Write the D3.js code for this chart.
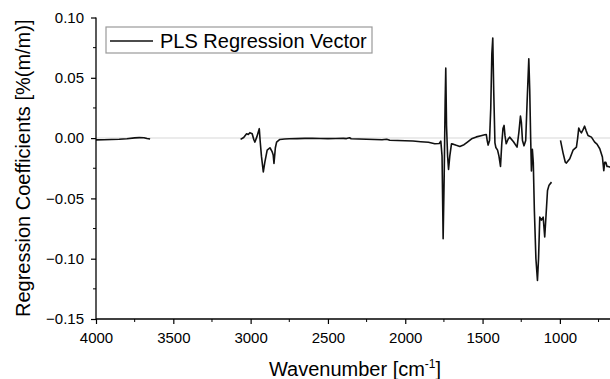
<!DOCTYPE html>
<html>
<head>
<meta charset="utf-8">
<script src="https://cdn.jsdelivr.net/npm/d3@7"></script>
<style>
  html, body { margin: 0; padding: 0; background: #fff; }
  svg { display: block; font-family: "Liberation Sans", Arial, sans-serif; }
</style>
</head>
<body>
<svg id="chart" width="610" height="379"></svg>
<script>
// ---- data ----
const wavenumber = [
  4000, 3950, 3900, 3850, 3800, 3750, 3720, 3690, 3670, 3650, null,
  3065, 3045, 3026, 3015, 3005, 2990, 2980, 2972, 2960, 2944, 2938, 2930, 2918, 2908, 2893, 2875, 2862, 2854, 2849, 2840, 2832, 2811,
  2780, 2750, 2700, 2650, 2600, 2550, 2500, 2450, 2400, 2380, 2360, 2350, 2300, 2250, 2200, 2150, 2120, 2100, 2050, 2000, 1950, 1900, 1850, 1809,
  1780, 1770, 1762, 1755, 1748, 1742, 1738, 1733, 1726, 1720, 1712, 1701, 1690, 1670, 1647, 1620, 1600, 1571, 1540, 1510, 1486, 1476, 1470, 1464,
  1455, 1447, 1440, 1434, 1428, 1420, 1414, 1403, 1394, 1384, 1376, 1368, 1361, 1355, 1347, 1335, 1325, 1300, 1277, 1265, 1255, 1249, 1242, 1232,
  1221, 1212, 1201, 1195, 1189, 1184, 1178, 1172, 1165, 1155, 1145, 1138, 1130, 1119, 1108, 1098, 1090, 1080, 1070, 1054, null,
  996, 980, 965, 958, 936, 915, 893, 885, 878, 870, 861, 850, 840, 830, 818, 796, 775, 760, 742, 725, 716, 710, 703, 695, 688, 677, 660
];
const coefficient = [
  -0.0015, -0.0014, -0.0012, -0.0010, -0.0006, 0.0002, 0.0004, 0.0003, -0.0003, -0.0008, null,
  -0.0011, 0.0005, 0.0036, 0.0030, 0.0045, 0.0036, -0.0010, -0.0033, 0.0010, 0.0078, -0.0030, -0.0150, -0.0280, -0.0200, -0.0100, -0.0080, -0.0110, -0.0140, -0.0210, -0.0080, -0.0033, -0.0011,
  -0.0008, -0.0006, -0.0004, -0.0002, -0.0002, -0.0003, -0.0004, -0.0003, -0.0002, -0.0004, 0.0003, -0.0005, -0.0008, -0.0010, -0.0012, -0.0014, -0.0010, -0.0018, -0.0020, -0.0022, -0.0024, -0.0030, -0.0035, -0.0047,
  -0.0045, -0.0025, -0.0150, -0.0834, -0.0300, 0.0300, 0.0580, 0.0100, -0.0150, -0.0260, -0.0150, -0.0047, -0.0050, -0.0060, -0.0069, -0.0055, -0.0035, -0.0006, 0.0010, 0.0020, 0.0028, 0.0030, -0.0020, -0.0058,
  -0.0020, 0.0250, 0.0700, 0.0830, 0.0400, -0.0040, -0.0078, -0.0100, -0.0150, -0.0235, -0.0050, 0.0080, 0.0105, 0.0020, -0.0047, -0.0010, 0.0008, -0.0030, -0.0075, 0.0050, 0.0183, 0.0130, -0.0020, -0.0064,
  -0.0020, 0.0300, 0.0658, 0.0400, 0.0000, -0.0273, -0.0093, -0.0200, -0.0600, -0.1000, -0.1180, -0.1000, -0.0655, -0.0680, -0.0655, -0.0820, -0.0650, -0.0434, -0.0390, -0.0365, null,
  -0.0019, -0.0120, -0.0200, -0.0207, -0.0171, -0.0100, -0.0075, 0.0000, 0.0083, 0.0060, 0.0044, 0.0070, 0.0099, 0.0060, 0.0022, 0.0008, -0.0033, -0.0050, -0.0088, -0.0157, -0.0270, -0.0200, -0.0200, -0.0236, -0.0236, -0.0240, -0.0250
];
const xMajorTicks = [4000, 3500, 3000, 2500, 2000, 1500, 1000];
const xMinorTicks = [3750, 3250, 2750, 2250, 1750, 1250, 750];
const yMajorTicks = [0.10, 0.05, 0.00, -0.05, -0.10, -0.15];
const yMinorTicks = [0.075, 0.025, -0.025, -0.075, -0.125];
const seriesName = "PLS Regression Vector";
const xTitle = "Wavenumber [cm";
const xTitleSup = "-1";
const yTitle = "Regression Coefficients [%(m/m)]";

(function () {
  // ---- layout ----
  const svg = d3.select("#chart");
  const pLeft = 96, pRight = 614, pTop = 17.5, pBottom = 319;

  const x = d3.scaleLinear().domain([4000, 650]).range([pLeft, pRight]);
  const y = d3.scaleLinear().domain([-0.15, 0.10]).range([pBottom, pTop]);

  svg.append("clipPath").attr("id", "clip")
    .append("rect").attr("x", pLeft).attr("y", 0).attr("width", pRight - pLeft).attr("height", pBottom);

  // zero reference line
  svg.append("line")
    .attr("x1", pLeft).attr("x2", pRight)
    .attr("y1", y(0)).attr("y2", y(0))
    .attr("stroke", "#e4e4e4").attr("stroke-width", 1.5);

  // data line
  const pts = wavenumber.map((w, i) => ({ w, v: coefficient[i] }));
  const line = d3.line()
    .defined(d => d.w !== null && d.v !== null && d.v !== undefined)
    .x(d => x(d.w)).y(d => y(d.v));
  svg.append("path")
    .datum(pts)
    .attr("clip-path", "url(#clip)")
    .attr("fill", "none")
    .attr("stroke", "#111")
    .attr("stroke-width", 1.6)
    .attr("stroke-linejoin", "round")
    .attr("d", line);

  // axes
  const fmt = d3.format(".2f");
  const xAxis = svg.append("g").attr("transform", `translate(0,${pBottom})`)
    .call(d3.axisBottom(x).tickValues(xMajorTicks).tickSize(5).tickPadding(8).tickFormat(d3.format("d")));
  xAxis.append("g").selectAll("line").data(xMinorTicks).join("line")
    .attr("x1", d => x(d)).attr("x2", d => x(d)).attr("y1", 0).attr("y2", 3)
    .attr("stroke", "#000");
  const yAxis = svg.append("g").attr("transform", `translate(${pLeft},0)`)
    .call(d3.axisLeft(y).tickValues(yMajorTicks).tickSize(5).tickPadding(7).tickFormat(d => fmt(d)));
  yAxis.append("g").selectAll("line").data(yMinorTicks).join("line")
    .attr("x1", 0).attr("x2", -3).attr("y1", d => y(d)).attr("y2", d => y(d))
    .attr("stroke", "#000");

  [xAxis, yAxis].forEach(g => {
    g.selectAll(".domain").attr("stroke", "#000").attr("stroke-width", 1.3);
    g.selectAll(".tick line").attr("stroke", "#000").attr("stroke-width", 1.2);
    g.selectAll("text").attr("font-size", 15).attr("fill", "#000")
      .attr("font-family", "Liberation Sans, Arial, sans-serif");
  });
  xAxis.select(".domain").attr("d", `M${pLeft},0H${pRight}`);
  yAxis.select(".domain").attr("d", `M0,${pBottom}V${pTop}`);

  // axis titles
  const xt = svg.append("text")
    .attr("x", (pLeft + 610) / 2 + 2).attr("y", 376)
    .attr("text-anchor", "middle").attr("font-size", 20).attr("fill", "#000");
  xt.append("tspan").text(xTitle);
  xt.append("tspan").attr("font-size", 12).attr("dy", -8).text(xTitleSup);
  xt.append("tspan").attr("dy", 8).text("]");

  svg.append("text")
    .attr("transform", `translate(30,${(pTop + pBottom) / 2}) rotate(-90)`)
    .attr("text-anchor", "middle").attr("font-size", 20).attr("fill", "#000")
    .text(yTitle);

  // legend
  const lg = svg.append("g");
  lg.append("rect").attr("x", 106).attr("y", 27).attr("width", 266).attr("height", 26)
    .attr("fill", "#fff").attr("stroke", "#9a9a9a").attr("stroke-width", 1.2);
  lg.append("line").attr("x1", 110).attr("x2", 153).attr("y1", 41).attr("y2", 41)
    .attr("stroke", "#111").attr("stroke-width", 1.6);
  lg.append("text").attr("x", 160).attr("y", 47.5).attr("font-size", 20).attr("fill", "#000")
    .text(seriesName);
})();
</script>
</body>
</html>
